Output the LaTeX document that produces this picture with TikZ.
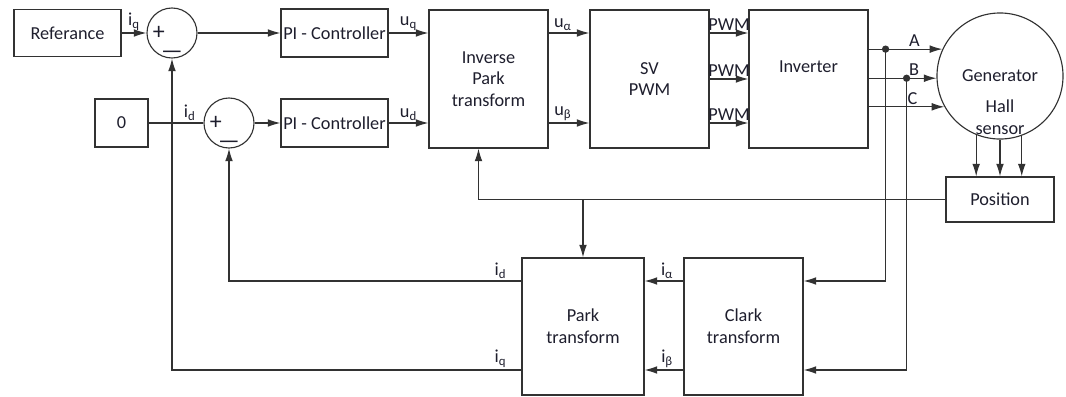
\documentclass[tikz,border=0pt]{standalone}
\usepackage{fontspec}
\setmainfont{Carlito}
\usepackage{tikz}
\usetikzlibrary{arrows.meta,calc}
\definecolor{figline}{RGB}{50,50,50}
\definecolor{figtext}{RGB}{30,30,45}
\tikzset{
  blk/.style  ={draw=figline, line width=0.8pt, rectangle, align=center, text=figtext, inner sep=1pt, font=\fontsize{13}{15.5}\selectfont},
  sumc/.style ={draw=figline, line width=0.8pt, circle, minimum size=1.25cm, inner sep=0pt},
  sig/.style  ={draw=figline, line width=0.8pt, -{Latex[length=9pt,width=5.5pt]}},
  wire/.style ={draw=figline, line width=0.8pt},
  lab/.style  ={font=\fontsize{13}{15.5}\selectfont, text=figtext, inner sep=1.5pt},
  sgn/.style  ={font=\fontsize{17}{17}\selectfont, text=figtext, inner sep=0pt},
}

\begin{document}
\begin{tikzpicture}[x=0.025cm, y=-0.025cm]
  \useasboundingbox (0,0) rectangle (1066,396);
  \node[blk, minimum width=2.675cm, minimum height=1.175cm] (ref) at (67.5,33) {Referance};
  \node[sumc, label={[sgn,xshift=-0.33cm]center:+}, label={[sgn,yshift=-0.55cm]center:---}] (s1) at (172,33) {};
  \node[blk, minimum width=1.325cm, minimum height=1.2cm] (zero) at (121.5,123) {0};
  \node[sumc, label={[sgn,xshift=-0.33cm]center:+}, label={[sgn,yshift=-0.55cm]center:---}] (s2) at (229,123) {};
  \node[blk, minimum width=2.675cm, minimum height=1.2cm] (pi1) at (334.5,33) {PI - Controller};
  \node[blk, minimum width=2.675cm, minimum height=1.2cm] (pi2) at (334.5,123) {PI - Controller};
  \node[blk, minimum width=2.975cm, minimum height=3.45cm] (ipark) at (488.5,79) {Inverse\\Park\\transform};
  \node[blk, minimum width=2.975cm, minimum height=3.45cm] (svpwm) at (649.5,79) {SV\\PWM};
  \node[blk, minimum width=2.975cm, minimum height=3.45cm, label={[lab,yshift=0.3cm]center:Inverter}] (inv) at (808.5,79) {};
  \node[draw=figline, line width=0.8pt, circle, minimum size=3.15cm, inner sep=0pt, text=figtext, font=\fontsize{13}{15.5}\selectfont,
        label={[lab,align=center,yshift=-1.04cm]center:Hall\\sensor}] (gen) at (1000,76) {Generator};
  \node[blk, minimum width=2.7cm, minimum height=1.125cm] (pos) at (1000,199.5) {Position};
  \node[blk, minimum width=3.05cm, minimum height=3.425cm] (park) at (583,326.5) {Park\\transform};
  \node[blk, minimum width=2.975cm, minimum height=3.425cm] (clark) at (743.5,326.5) {Clark\\transform};

  \draw[sig] (ref.east) -- node[lab,above] {i\textsubscript{q}} (s1.west);
  \draw[sig] (s1.east) -- (pi1.west);
  \draw[wire] (zero.east) -- node[lab,above,pos=0.75] {i\textsubscript{d}} (s2.west);
  \draw[sig] (s2.east) -- (pi2.west);
  \draw[sig] (pi1.east) -- node[lab,above] {u\textsubscript{q}} (pi1.east -| ipark.west);
  \draw[sig] (pi2.east) -- node[lab,above] {u\textsubscript{d}} (pi2.east -| ipark.west);
  \draw[sig] (ipark.east |- pi1.east) -- node[lab,above,pos=0.35] {u\textsubscript{α}} (svpwm.west |- pi1.east);
  \draw[sig] (ipark.east |- pi2.east) -- node[lab,above,pos=0.35] {u\textsubscript{β}} (svpwm.west |- pi2.east);
  \draw[sig] (svpwm.east |- pi1.east) -- node[lab,above] {PWM} (inv.west |- pi1.east);
  \draw[sig] (svpwm.east) -- node[lab,above] {PWM} (inv.west);
  \draw[sig] (svpwm.east |- pi2.east) -- node[lab,above] {PWM} (inv.west |- pi2.east);

  \draw[sig] (inv.east |- gen.155.6) -- node[lab,above,pos=0.62] {A} (gen.155.6);
  \draw[sig] (inv.east |- gen.182.7) -- node[lab,above,pos=0.67] {B} (gen.182.7);
  \draw[sig] (inv.east |- gen.209.5) -- node[lab,above,pos=0.58] {C} (gen.209.5);
  \coordinate (ja) at ($(inv.east |- gen.155.6)+(17,0)$);
  \coordinate (jb) at ($(inv.east |- gen.182.7)+(38,0)$);
  \fill[figline] (ja) circle[radius=2.6pt];
  \fill[figline] (jb) circle[radius=2.6pt];
  \draw[sig] (ja) |- (clark.east |- 0,281);
  \draw[sig] (jb) |- (clark.east |- 0,370);

  \draw[sig] (clark.west |- 0,281) -- node[lab,above,pos=0.42] {i\textsubscript{α}} (park.east |- 0,281);
  \draw[sig] (clark.west |- 0,370) -- node[lab,above,pos=0.42] {i\textsubscript{β}} (park.east |- 0,370);
  \draw[sig] (park.west |- 0,281) -| node[lab,above,pos=0.036] {i\textsubscript{d}} (s2.south);
  \draw[sig] (park.west |- 0,370) -| node[lab,above,pos=0.03] {i\textsubscript{q}} (s1.south);

  \draw[sig] (gen.south) -- (pos.north);
  \draw[sig] (gen.248.6) -- (gen.248.6 |- pos.north);
  \draw[sig] (gen.290.4) -- (gen.290.4 |- pos.north);
  \draw[sig] (pos.west) -| ([xshift=-0.25cm]ipark.south);
  \draw[sig] (pos.west -| park.north) -- (park.north);
\end{tikzpicture}
\end{document}
